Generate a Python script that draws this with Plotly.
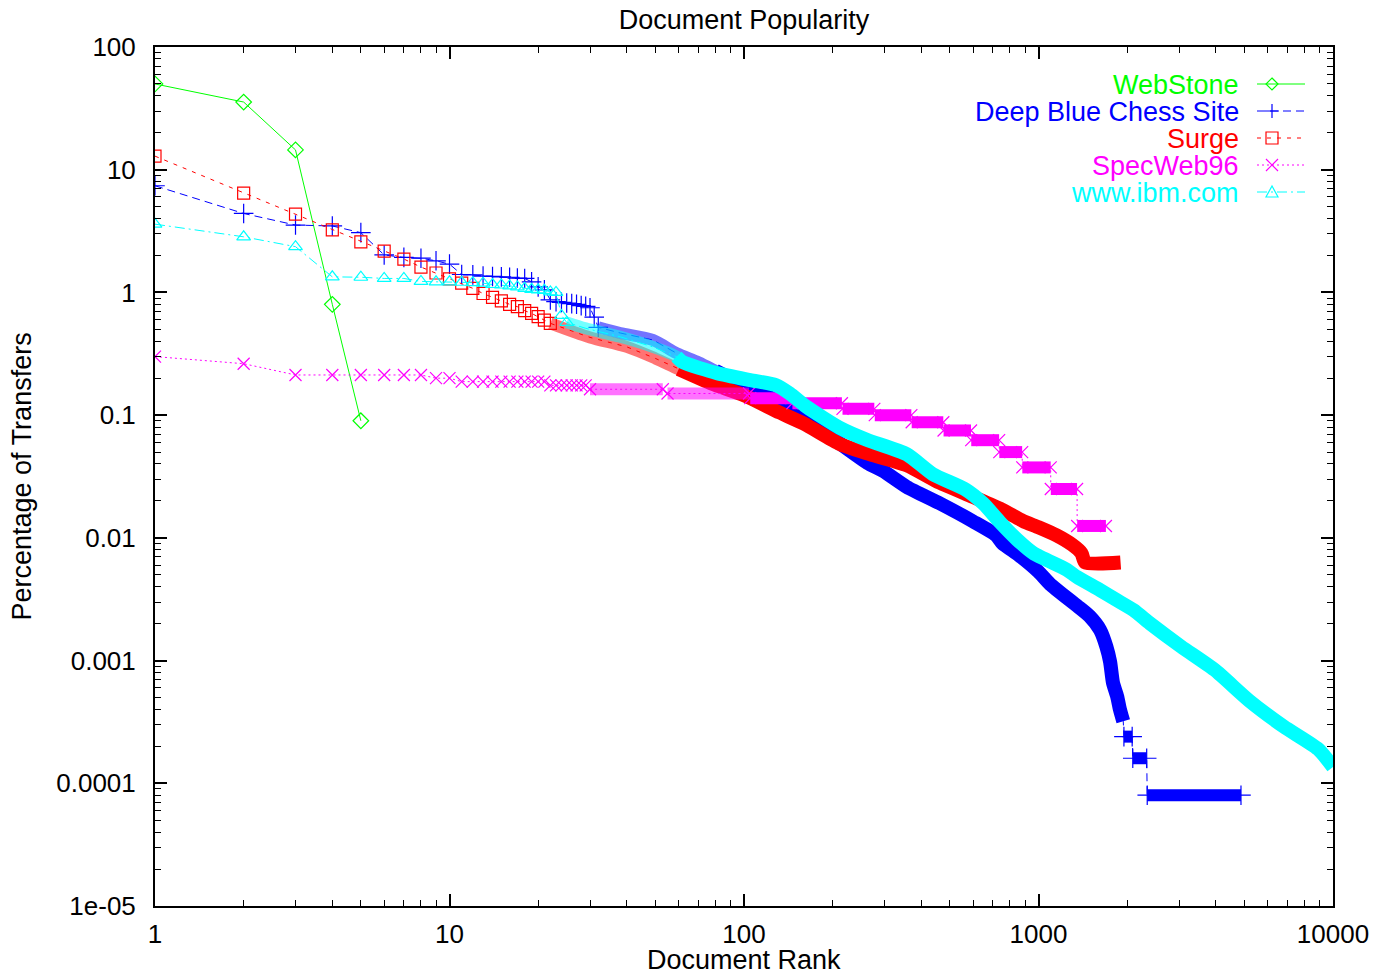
import plotly.graph_objects as go

# ---------------------------------------------------------------
# values: document rank vs. percent
# of transfers.  "band" = region where markers overlap into a solid
# band, "step" = flat runs (pct, first rank, last rank)
# ---------------------------------------------------------------
webstone_rank = [1, 2, 3, 4, 5]
webstone_pct = [50, 35.6, 14.5, 0.8, 0.09]

deepblue_rank = [1, 2, 3, 4, 5, 6, 7, 8, 9, 10, 11, 12, 13, 14, 15, 16,
                 17, 18, 19, 20, 21, 22, 23, 24, 25, 26, 27, 28, 29, 30, 31, 32]
deepblue_pct = [7.4, 4.4, 3.54, 3.48, 3.07, 2.02, 1.93, 1.90, 1.81, 1.70, 1.40,
                1.39, 1.36, 1.35, 1.34, 1.33, 1.31, 1.30, 1.22, 1.11, 1.05, 0.87,
                0.84, 0.83, 0.82, 0.81, 0.80, 0.78, 0.77, 0.75, 0.63, 0.52]
deepblue_band_rank = [32, 38, 49, 59, 70, 80, 102, 143, 200, 262, 297, 357, 464,
                      600, 718, 755, 860, 1000, 1094, 1350, 1490, 1618, 1700,
                      1750, 1790, 1850, 1890, 1940]
deepblue_band_pct = [0.52, 0.467, 0.41, 0.32, 0.27, 0.23, 0.17, 0.116, 0.065,
                     0.041, 0.035, 0.026, 0.019, 0.0136, 0.0105, 0.0090, 0.0072,
                     0.0053, 0.0042, 0.0028, 0.0023, 0.00178, 0.0013, 0.00098,
                     0.00066, 0.00051, 0.0004, 0.00032]
deepblue_step_pct = [0.00024, 0.00016, 0.00008]
deepblue_step_first = [1950, 2090, 2340]
deepblue_step_last = [2080, 2330, 4870]

surge_rank = [1, 2, 3, 4, 5, 6, 7, 8, 9, 10, 11, 12, 13, 14, 15, 16, 17, 18,
              19, 20, 21, 22]
surge_pct = [12.9, 6.45, 4.35, 3.23, 2.58, 2.17, 1.87, 1.61, 1.44, 1.29, 1.19,
             1.08, 0.98, 0.91, 0.855, 0.80, 0.765, 0.71, 0.675, 0.634, 0.595, 0.56]
surge_band_rank = [22, 30, 40, 50, 60, 78, 100, 132, 160, 212, 260, 357, 450,
                   601, 750, 887, 1000, 1150, 1300, 1400, 1440, 1900]
surge_band_pct = [0.56, 0.43, 0.36, 0.29, 0.237, 0.18, 0.145, 0.105, 0.085,
                  0.058, 0.049, 0.039, 0.029, 0.0215, 0.017, 0.0137, 0.0122,
                  0.0105, 0.0088, 0.0075, 0.0063, 0.0063]

specweb_rank = [1, 2, 3, 4, 5, 6, 7, 8, 9, 10, 11, 12, 13, 14, 15, 16, 17, 18,
                19, 20, 21, 22, 23, 24, 25, 26, 27, 28, 29]
specweb_pct = [0.3, 0.2625, 0.2125, 0.2125, 0.2125, 0.2125, 0.2125, 0.2125,
               0.2, 0.2, 0.1875, 0.1875, 0.1875, 0.1875, 0.1875, 0.1875, 0.1875,
               0.1875, 0.1875, 0.1875, 0.1875, 0.175, 0.175, 0.175, 0.175,
               0.175, 0.175, 0.175, 0.175]
specweb_step_pct = [0.1625, 0.15, 0.1375, 0.125, 0.1125, 0.1, 0.0875, 0.075,
                    0.0625, 0.05, 0.0375, 0.025, 0.0125]
specweb_step_first = [30, 55, 105, 146, 216, 278, 371, 476, 591, 736, 881,
                      1101, 1353]
specweb_step_last = [53, 104, 145, 215, 277, 370, 475, 590, 735, 880, 1100,
                     1352, 1694]

ibm_rank = [1, 2, 3, 4, 5, 6, 7, 8, 9, 10, 11, 12, 13, 14, 15, 16, 17, 18, 19,
            20, 21, 22, 23, 24, 25]
ibm_pct = [3.6, 2.84, 2.36, 1.34, 1.33, 1.30, 1.30, 1.23, 1.22, 1.22, 1.21,
           1.20, 1.19, 1.16, 1.15, 1.13, 1.11, 1.08, 1.06, 1.05, 1.04, 1.01,
           1.0, 0.65, 0.57]
ibm_band_rank = [25, 29, 38, 49, 59, 62, 81, 105, 128, 143, 163, 211, 261, 357,
                 438, 565, 650, 740, 845, 960, 1247, 1350, 1618, 1842, 2100,
                 2390, 3050, 3960, 5200, 6800, 8900, 10000]
ibm_band_pct = [0.57, 0.51, 0.435, 0.36, 0.30, 0.27, 0.22, 0.193, 0.176, 0.15,
                0.117, 0.079, 0.063, 0.048, 0.033, 0.0248, 0.019, 0.0134,
                0.0097, 0.0075, 0.0055, 0.0048, 0.00375, 0.00311, 0.00258,
                0.00201, 0.0013, 0.00084, 0.00047, 0.00029, 0.00019, 0.000136]

FONT = "Liberation Sans, Arial, Helvetica, sans-serif"
BAND = 14
PAGE = 8  # body margin of the html page

fig = go.Figure()


def rgba(hexcol, a):
    h = hexcol.lstrip('#')
    return 'rgba(%d,%d,%d,%s)' % (int(h[0:2], 16), int(h[2:4], 16), int(h[4:6], 16), a)


def add_series(color, dash, symbol, msize, rank, pct,
               band_rank=(), band_pct=(),
               step_pct=(), step_first=(), step_last=(), light_until=0):
    # flat runs -> endpoints
    sx, sy = [], []
    for p, a, b in zip(step_pct, step_first, step_last):
        sx += [a, b]
        sy += [p, p]
    # thin connecting line through everything
    fig.add_trace(go.Scatter(
        x=list(rank) + list(band_rank) + sx, y=list(pct) + list(band_pct) + sy,
        mode='lines', line=dict(color=color, width=1, dash=dash),
        hoverinfo='skip', showlegend=False))
    # thick band where the markers overlap
    if band_rank:
        n = len([r for r in band_rank if r <= light_until])
        if n:
            fig.add_trace(go.Scatter(
                x=list(band_rank[:n + 1]), y=list(band_pct[:n + 1]), mode='lines',
                line=dict(color=rgba(color, 0.55), width=BAND - 2,
                          shape='spline', smoothing=0.8),
                hoverinfo='skip', showlegend=False))
        fig.add_trace(go.Scatter(
            x=list(band_rank[max(n - 1, 0):]), y=list(band_pct[max(n - 1, 0):]),
            mode='lines', line=dict(color=color, width=BAND, shape='spline', smoothing=0.6),
            hoverinfo='skip', showlegend=False))
    if step_pct:
        for light in (True, False):
            gx, gy = [], []
            for p, a, b in zip(step_pct, step_first, step_last):
                if (a < light_until) == light:
                    gx += [a, b, None]
                    gy += [p, p, None]
            if gx:
                fig.add_trace(go.Scatter(
                    x=gx, y=gy, mode='lines',
                    line=dict(color=rgba(color, 0.55) if light else color, width=BAND - 2),
                    hoverinfo='skip', showlegend=False))
    # markers
    fig.add_trace(go.Scatter(
        x=list(rank) + sx, y=list(pct) + sy, mode='markers',
        marker=dict(symbol=symbol, size=msize, color=color, line=dict(color=color, width=1.2)),
        hoverinfo='x+y', showlegend=False))


names = ['WebStone', 'Deep Blue Chess Site', 'Surge', 'SpecWeb96', 'www.ibm.com']
colors = ['#00ff00', '#0000ff', '#ff0000', '#ff00ff', '#00ffff']
dashes = ['solid', '8px,5px', '4px,6px', '2px,3px', '10px,4px,2px,4px']

add_series(colors[0], dashes[0], 'diamond-open', 12, webstone_rank, webstone_pct)
add_series(colors[1], dashes[1], 'cross-thin-open', 14, deepblue_rank, deepblue_pct,
           deepblue_band_rank, deepblue_band_pct,
           deepblue_step_pct, deepblue_step_first, deepblue_step_last, light_until=80)
add_series(colors[2], dashes[2], 'square-open', 12, surge_rank, surge_pct,
           surge_band_rank, surge_band_pct, light_until=60)
add_series(colors[3], dashes[3], 'x-thin-open', 12, specweb_rank, specweb_pct,
           step_pct=specweb_step_pct, step_first=specweb_step_first,
           step_last=specweb_step_last, light_until=100)
add_series(colors[4], dashes[4], 'triangle-up-open', 12, ibm_rank, ibm_pct,
           ibm_band_rank, ibm_band_pct, light_until=60)

# plot area in page pixels
L, T, W, H = 155, 47, 1178, 859


def px(x):
    return (x - L) / W


def py(y):
    return (T + H - y) / H


# ---- gnuplot style key (text left, sample right) ----
key_paths = ['M0,6 L6,0 L0,-6 L-6,0 Z', 'M-7,0 L7,0 M0,-7 L0,7',
             'M-6,-6 L6,-6 L6,6 L-6,6 Z', 'M-6,-6 L6,6 M-6,6 L6,-6',
             'M-6,-5 L6,-5 L0,6 Z']
shapes, annotations = [], []
for i, (nm, c) in enumerate(zip(names, colors)):
    ry = 84 + 27 * i
    annotations.append(dict(x=px(1241), y=py(ry + 1), xref='paper', yref='paper',
                            text=nm, showarrow=False, xanchor='right', yanchor='middle',
                            font=dict(family=FONT, size=27, color=c)))
    shapes.append(dict(type='line', xref='paper', yref='paper',
                       x0=px(1257), x1=px(1305), y0=py(ry), y1=py(ry),
                       line=dict(color=c, width=1, dash=dashes[i])))
    shapes.append(dict(type='path', xref='paper', yref='paper', xsizemode='pixel',
                       ysizemode='pixel', xanchor=px(1272), yanchor=py(ry),
                       path=key_paths[i], line=dict(color=c, width=1.2)))

# axis titles
annotations.append(dict(x=0.5, y=py(960), xref='paper', yref='paper', text='Document Rank',
                        showarrow=False, xanchor='center', yanchor='middle',
                        font=dict(family=FONT, size=27, color='black')))
annotations.append(dict(x=px(21), y=0.5, xref='paper', yref='paper',
                        text='Percentage of Transfers', textangle=-90,
                        showarrow=False, xanchor='center', yanchor='middle',
                        font=dict(family=FONT, size=27, color='black')))

minor_vals = [m * 10 ** e for e in range(-5, 4) for m in range(2, 10)]
axis_common = dict(type='log', showgrid=False, zeroline=False, showline=True,
                   linecolor='black', linewidth=2, mirror='ticks', ticks='inside',
                   ticklen=12, tickwidth=1.5, tickcolor='black', automargin=False,
                   tickfont=dict(family=FONT, size=26, color='black'),
                   minor=dict(ticks='inside', ticklen=6, tickwidth=1, tickcolor='black',
                              tickvals=minor_vals, showgrid=False))

fig.update_xaxes(range=[0, 4], tickvals=[1, 10, 100, 1000, 10000],
                 ticktext=['1', '10', '100', '1000', '10000'], ticklabelstandoff=4,
                 **axis_common)
fig.update_yaxes(range=[-5, 2],
                 tickvals=[1e-5, 1e-4, 1e-3, 1e-2, 0.1, 1, 10, 100],
                 ticktext=['1e-05', '0.0001', '0.001', '0.01', '0.1', '1', '10', '100'],
                 ticklabelstandoff=12, **axis_common)

FW, FH = 1387 - 2 * PAGE, 978 - 2 * PAGE
fig.update_layout(
    width=FW, height=FH,
    margin=dict(l=L - PAGE, r=FW - (L - PAGE) - W, t=T - PAGE, b=FH - (T - PAGE) - H),
    paper_bgcolor='white', plot_bgcolor='white',
    title=dict(text='Document Popularity', x=(L - PAGE + W / 2) / FW, xanchor='center',
               y=1 - (20 - PAGE) / FH, yanchor='middle',
               font=dict(family=FONT, size=27, color='black')),
    font=dict(family=FONT, size=26, color='black'),
    shapes=shapes, annotations=annotations, showlegend=False,
)

fig.write_html("out.html")
